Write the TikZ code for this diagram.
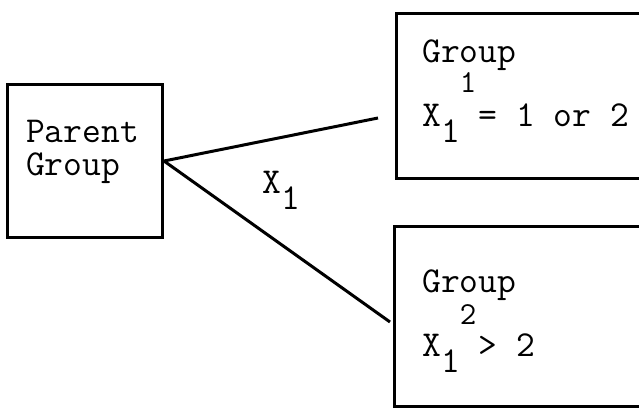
\documentclass[tikz,border=0pt]{standalone}
\newcommand\tfont{\ttfamily\fontsize{36.5}{40}\selectfont}
\newcommand\lowsub[1]{\raisebox{-16.5pt}{#1}}
\begin{document}
\begin{tikzpicture}[x=1pt,y=-1pt, every node/.style={font=\tfont},
  grp/.style={draw,line width=3pt,anchor=north west,inner sep=0pt},
  txt/.style={anchor=base west,inner sep=0pt},
  idx/.style={anchor=base,inner sep=0pt,font=\ttfamily\fontsize{32}{34}\selectfont},
  link/.style={line width=3pt}]
\useasboundingbox (0,0) rectangle (639,409);
\clip (0,0) rectangle (639,409);
% boxes
\node[grp,minimum width=155pt,minimum height=153pt] (parent) at (6,83) {};
\node[grp,minimum width=310pt,minimum height=165pt] (grpone) at (395,12) {};
\node[grp,minimum width=310pt,minimum height=180pt] (grptwo) at (393,225) {};
% texts
\node[txt] (ptop) at (26,142) {Parent};
\node[txt] (pbot) at (26,175) {Group};
\node[txt] (oneA) at (422,63) {Group};
\node[idx] (oneB) at (468,93) {1};
\node[txt] (oneC) at (422,126) {X\lowsub{1} = 1 or 2};
\node[txt] (twoA) at (422,292) {Group};
\node[idx] (twoB) at (468,324) {2};
\node[txt] (twoC) at (422,356) {X\lowsub{1} > 2};
\node[txt] (xlab) at (262,193) {X\lowsub{1}};
% split lines
\coordinate (endone) at (378,118);
\coordinate (endtwo) at (390,322);
\draw[link] (parent.east) -- (endone);
\draw[link] (parent.east) -- (endtwo);
\end{tikzpicture}
\end{document}
